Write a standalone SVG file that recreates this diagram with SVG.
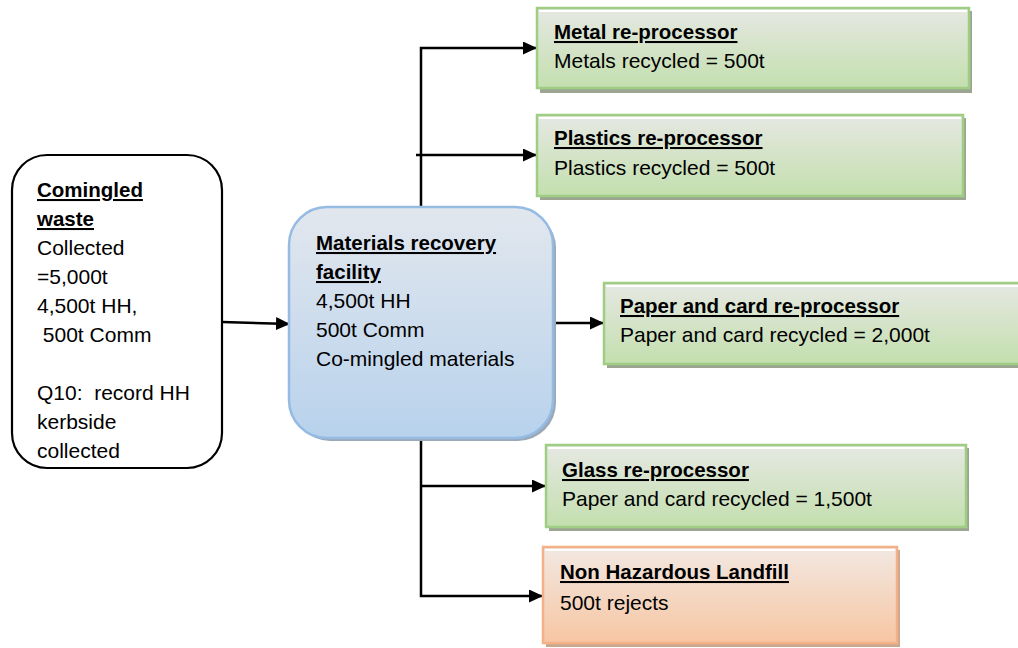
<svg xmlns="http://www.w3.org/2000/svg" width="1018" height="648" viewBox="0 0 1018 648">
<defs>
<linearGradient id="gGreen" x1="0" y1="0" x2="0" y2="1"><stop offset="0" stop-color="#e6e8e3"/><stop offset="1" stop-color="#c3dfae"/></linearGradient>
<linearGradient id="gOrange" x1="0" y1="0" x2="0" y2="1"><stop offset="0" stop-color="#f2e8e2"/><stop offset="1" stop-color="#f7c6a3"/></linearGradient>
<linearGradient id="gBlue" x1="0" y1="0" x2="0" y2="1"><stop offset="0" stop-color="#e2e7ee"/><stop offset="1" stop-color="#b8d2ec"/></linearGradient>
<marker id="arr" viewBox="0 0 14 13" refX="14" refY="6.5" markerWidth="14" markerHeight="13" markerUnits="userSpaceOnUse" orient="auto"><path d="M0,0 L14,6.5 L0,13 Z" fill="#000"/></marker>
</defs>
<style>
text{font-family:"Liberation Sans",Arial,sans-serif;font-size:21px;fill:#000;white-space:pre}
.b{font-weight:bold;font-size:20.5px;text-decoration:underline}
.green{fill:url(#gGreen);stroke:#9fcd84;stroke-width:2.5}
.orange{fill:url(#gOrange);stroke:#f4b187;stroke-width:2.5}
.gsh{fill:#9ba592}
.osh{fill:#c9a890}
.hl{stroke:#ffffff;stroke-width:2;fill:none}
.con{stroke:#000;stroke-width:2.5;fill:none}
</style>
<g id="connectors">
<line class="con" x1="222" y1="322" x2="290" y2="324" marker-end="url(#arr)"/>
<polyline class="con" points="421,207 421,48 537,48" marker-end="url(#arr)"/>
<line class="con" x1="416" y1="155" x2="537" y2="155" marker-end="url(#arr)"/>
<line class="con" x1="553" y1="323" x2="604" y2="323" marker-end="url(#arr)"/>
<polyline class="con" points="421,438 421,596 543,596" marker-end="url(#arr)"/>
<line class="con" x1="421" y1="486" x2="546" y2="486" marker-end="url(#arr)"/>
</g>
<g id="comingled">
<rect x="12" y="155" width="210" height="313" rx="35" ry="35" fill="#fff" stroke="#000" stroke-width="2.2"/>
<text x="37" y="197" class="b">Comingled</text>
<text x="37" y="226" class="b">waste</text>
<text x="37" y="255">Collected</text>
<text x="37" y="284">=5,000t</text>
<text x="37" y="313">4,500t HH,</text>
<text x="37" y="342"> 500t Comm</text>
<text x="37" y="400">Q10:  record HH</text>
<text x="37" y="429">kerbside</text>
<text x="37" y="458">collected</text>
</g>
<g id="mrf">
<rect x="292" y="210" width="264" height="231" rx="38" ry="38" fill="#9aa8b8"/>
<rect x="289" y="207" width="264" height="231" rx="38" ry="38" fill="url(#gBlue)" stroke="#95bbe3" stroke-width="2.5"/>
<text x="316" y="250" class="b">Materials recovery</text>
<text x="316" y="279" class="b">facility</text>
<text x="316" y="308">4,500t HH</text>
<text x="316" y="337">500t Comm</text>
<text x="316" y="366">Co-mingled materials</text>
</g>
<g id="metal">
<rect class="gsh" x="540" y="11" width="432" height="82"/>
<rect class="green" x="537" y="8" width="432" height="80"/>
<line class="hl" x1="539" y1="11" x2="967" y2="11"/>
<text x="554" y="39" class="b">Metal re-processor</text>
<text x="554" y="68">Metals recycled = 500t</text>
</g>
<g id="plastics">
<rect class="gsh" x="540" y="118" width="426" height="82"/>
<rect class="green" x="537" y="115" width="426" height="81"/>
<line class="hl" x1="539" y1="118" x2="961" y2="118"/>
<text x="554" y="145" class="b">Plastics re-processor</text>
<text x="554" y="175">Plastics recycled = 500t</text>
</g>
<g id="paper">
<rect class="gsh" x="607" y="286" width="430" height="82"/>
<rect class="green" x="604" y="283" width="430" height="81"/>
<line class="hl" x1="606" y1="286" x2="1032" y2="286"/>
<text x="620" y="313" class="b">Paper and card re-processor</text>
<text x="620" y="342">Paper and card recycled = 2,000t</text>
</g>
<g id="glass">
<rect class="gsh" x="549" y="448" width="420" height="83"/>
<rect class="green" x="546" y="445" width="420" height="82"/>
<line class="hl" x1="548" y1="448" x2="964" y2="448"/>
<text x="562" y="477" class="b">Glass re-processor</text>
<text x="562" y="506">Paper and card recycled = 1,500t</text>
</g>
<g id="landfill">
<rect class="osh" x="546" y="550" width="354" height="97"/>
<rect class="orange" x="543" y="547" width="354" height="96"/>
<line class="hl" x1="545" y1="550" x2="895" y2="550"/>
<text x="560" y="579" class="b">Non Hazardous Landfill</text>
<text x="560" y="610">500t rejects</text>
</g>
</svg>
